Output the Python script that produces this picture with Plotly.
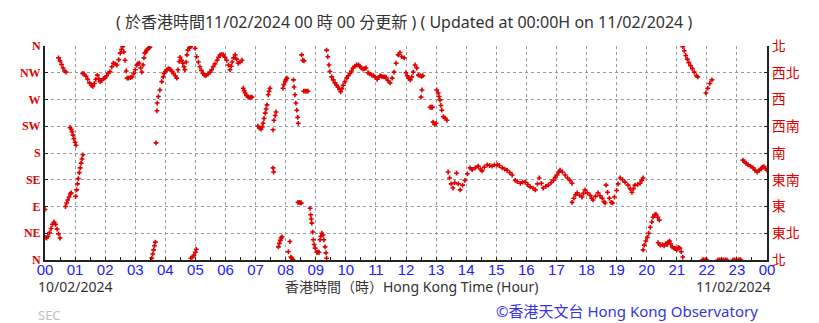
import plotly.graph_objects as go

# ---------------- data (hour of day, wind direction in degrees) ----------------
seg01_h = [0.0]
seg01_d = [85]
seg02_h = [0.0, 0.05, 0.1, 0.15, 0.2, 0.25, 0.3, 0.35, 0.4, 0.45, 0.5]
seg02_d = [38, 37, 40, 46, 53, 60, 64, 60, 52, 44, 37]
seg03_h = [0.45, 0.5, 0.55, 0.6, 0.65, 0.7]
seg03_d = [340, 335, 329, 323, 318, 316]
seg04_h = [0.68, 0.72, 0.76, 0.8, 0.84, 0.87]
seg04_d = [90, 96, 101, 106, 111, 113]
seg05_h = [0.83, 0.87, 0.9, 0.93, 0.96, 1.0, 1.03]
seg05_d = [223, 220, 216, 210, 204, 198, 193]
seg06_h = [1.02, 1.05, 1.08, 1.11, 1.14, 1.17, 1.2, 1.23, 1.26]
seg06_d = [107, 118, 128, 137, 147, 155, 163, 170, 177]
seg07_h = [1.25, 1.3, 1.36, 1.42, 1.48, 1.54, 1.59, 1.64, 1.69, 1.74, 1.79, 1.83, 1.88, 1.94,
           1.99, 2.05, 2.1, 2.16, 2.22, 2.27, 2.33, 2.39, 2.45, 2.5, 2.54, 2.58, 2.62, 2.66,
           2.7, 2.73, 2.78, 2.84, 2.89, 2.95, 3.0, 3.05, 3.09, 3.13, 3.18, 3.22, 3.26, 3.29,
           3.32, 3.35, 3.38, 3.42, 3.46, 3.49]
seg07_d = [314, 313, 309, 304, 298, 294, 292, 297, 304, 311, 305, 300, 302, 305,
           306, 310, 314, 317, 325, 331, 330, 328, 337, 348, 354, 359, 350, 336,
           318, 306, 306, 307, 308, 314, 320, 328, 330, 331, 323, 316, 328, 340,
           348, 350, 353, 355, 357, 358]
seg08_h = [3.55, 3.58, 3.61, 3.64, 3.67]
seg08_d = [3, 10, 17, 24, 30]
seg09_h = [3.69, 3.72]
seg09_d = [197, 251]
seg10_h = [3.73, 3.77, 3.82, 3.88, 3.93, 3.96, 4.0, 4.04, 4.1, 4.14, 4.18, 4.23, 4.27, 4.33,
           4.38, 4.42, 4.46, 4.49, 4.54, 4.58, 4.62, 4.65, 4.69, 4.72, 4.75, 4.8, 4.84]
seg10_d = [264, 275, 286, 300, 308, 314, 317, 320, 322, 321, 320, 317, 314, 310,
           306, 320, 334, 341, 336, 331, 325, 320, 333, 345, 353, 357, 359]
seg11_h = [4.85, 4.9, 4.95, 5.0, 5.03]
seg11_d = [3, 5, 8, 13, 18]
seg12_h = [4.99, 5.04, 5.1, 5.15, 5.2, 5.25, 5.3, 5.35, 5.42, 5.49, 5.54, 5.59, 5.65, 5.72,
           5.77, 5.82, 5.88, 5.93, 5.98, 6.04, 6.1, 6.15, 6.19, 6.22, 6.27, 6.32, 6.37,
           6.42, 6.48, 6.55]
seg12_d = [356, 342, 333, 325, 319, 314, 311, 310, 313, 316, 320, 325, 330, 336,
           341, 345, 346, 345, 341, 336, 328, 320, 326, 333, 340, 345, 338,
           331, 333, 336]
seg13_h = [6.59, 6.62, 6.65, 6.7, 6.75, 6.8, 6.84, 6.88]
seg13_d = [289, 285, 281, 277, 274, 273, 274, 274]
seg14_h = [7.08, 7.13, 7.18, 7.22, 7.25, 7.28, 7.32, 7.35, 7.38, 7.42, 7.45, 7.48]
seg14_d = [225, 222, 220, 224, 230, 238, 247, 254, 261, 278, 284, 289]
seg15_h = [7.58, 7.6]
seg15_d = [155, 148]
seg16_h = [7.58, 7.61, 7.65, 7.68]
seg16_d = [219, 235, 243, 249]
seg17_h = [7.76, 7.79, 7.82, 7.85, 7.88]
seg17_d = [22, 28, 33, 37, 39]
seg18_h = [7.91, 7.94, 7.98, 8.01, 8.04]
seg18_d = [289, 295, 300, 303, 306]
seg19_h = [8.09, 8.14, 8.17, 8.2, 8.24]
seg19_d = [14, 31, 5, 3, 1]
seg20_h = [8.26, 8.28, 8.31, 8.34, 8.37, 8.4, 8.42]
seg20_d = [303, 291, 278, 264, 252, 240, 230]
seg21_h = [8.41, 8.45, 8.49, 8.52]
seg21_d = [97, 97, 96, 96]
seg22_h = [8.53, 8.57, 8.61]
seg22_d = [345, 336, 335]
seg23_h = [8.6, 8.65, 8.7, 8.74]
seg23_d = [284, 284, 284, 284]
seg24_h = [8.81, 8.83, 8.85, 8.87, 8.9, 8.92, 8.95, 8.98, 9.03, 9.07, 9.11]
seg24_d = [87, 76, 69, 62, 47, 34, 26, 20, 13, 13, 13]
seg25_h = [9.14, 9.17, 9.2, 9.24, 9.27]
seg25_d = [34, 40, 45, 42, 34]
seg26_h = [9.31, 9.34, 9.36]
seg26_d = [22, 12, 3]
seg27_h = [9.36, 9.4, 9.44, 9.47, 9.53, 9.58, 9.64, 9.69, 9.74, 9.79, 9.83, 9.87, 9.91, 9.97,
           10.03, 10.08, 10.14, 10.19, 10.24, 10.3, 10.36, 10.42, 10.47, 10.52, 10.57,
           10.62, 10.67, 10.74, 10.8, 10.86, 10.92, 10.97, 11.04, 11.09, 11.14, 11.19,
           11.24, 11.29, 11.34, 11.4, 11.47, 11.54, 11.6, 11.67, 11.74, 11.8, 11.86, 11.94]
seg27_d = [353, 342, 328, 317, 308, 303, 298, 294, 291, 287, 283, 288, 294, 300,
           306, 310, 314, 318, 323, 326, 328, 328, 326, 323, 321,
           322, 323, 315, 313, 311, 310, 308, 304, 307, 310, 309,
           308, 308, 307, 302, 298, 306, 316, 331, 345, 349, 342, 340]
seg28_h = [12.0, 12.04, 12.08, 12.14, 12.19, 12.24, 12.3, 12.36, 12.41, 12.47, 12.52, 12.56]
seg28_d = [315, 310, 306, 303, 308, 316, 328, 323, 311, 310, 309, 310]
seg29_h = [12.5, 12.53]
seg29_d = [274, 286]
seg30_h = [12.8, 12.84, 12.88]
seg30_d = [257, 257, 257]
seg31_h = [12.9, 12.95, 13.0]
seg31_d = [232, 228, 230]
seg32_h = [13.02, 13.07, 13.1, 13.13, 13.16, 13.19, 13.24, 13.3, 13.36]
seg32_d = [286, 281, 275, 269, 260, 252, 241, 239, 235]
seg33_h = [13.4, 13.45, 13.5, 13.56, 13.62, 13.68, 13.74, 13.8, 13.88, 13.96, 14.04, 14.13,
           14.2, 14.3, 14.4, 14.47, 14.53, 14.6, 14.7, 14.78, 14.86, 14.94, 15.03, 15.1,
           15.2, 15.28, 15.36, 15.45, 15.53, 15.63, 15.7, 15.8, 15.88, 15.96, 16.05, 16.13,
           16.22, 16.3, 16.37, 16.43, 16.5, 16.56, 16.65, 16.73, 16.82, 16.9, 16.96, 17.02,
           17.08, 17.12, 17.2, 17.29, 17.37, 17.45, 17.52]
seg33_d = [148, 138, 128, 121, 130, 146, 128, 118, 126, 134, 145, 155,
           152, 155, 158, 153, 150, 156, 160, 159, 158, 160, 160, 159,
           155, 153, 151, 147, 143, 134, 132, 129, 131, 131, 127, 123,
           121, 118, 128, 138, 129, 121, 124, 126, 130, 134, 139, 143,
           148, 151, 148, 143, 138, 134, 129]
seg34_h = [17.52, 17.58, 17.64, 17.69, 17.77, 17.85, 17.9, 17.95, 18.03, 18.12, 18.17, 18.22,
           18.3, 18.38, 18.45, 18.52, 18.58, 18.62, 18.65, 18.7, 18.76, 18.82, 18.87, 18.93,
           19.0, 19.05, 19.12, 19.2, 19.28, 19.38, 19.45, 19.51, 19.56, 19.61, 19.7, 19.78,
           19.84, 19.88]
seg34_d = [97, 104, 110, 113, 109, 106, 112, 118, 113, 109, 104, 101,
           107, 113, 108, 104, 98, 96, 126, 114, 104, 97, 96, 106,
           117, 128, 138, 135, 131, 126, 120, 114, 120, 126, 127, 129,
           134, 138]
seg35_h = [19.88, 19.92, 19.97, 20.02, 20.07, 20.12, 20.17, 20.21, 20.26, 20.31, 20.37, 20.42]
seg35_d = [17, 25, 32, 38, 45, 55, 64, 72, 76, 77, 72, 67]
seg36_h = [20.38, 20.45, 20.52, 20.58, 20.63, 20.68, 20.72, 20.76, 20.8, 20.85, 20.9, 20.95,
           21.0, 21.05, 21.1, 21.15, 21.2]
seg36_d = [29, 25, 26, 24, 27, 26, 30, 32, 27, 22, 20, 19, 17, 21, 20, 14, 5]
seg37_h = [21.2, 21.25, 21.3, 21.35, 21.4, 21.46, 21.52, 21.58, 21.65, 21.7]
seg37_d = [359, 352, 344, 338, 332, 327, 322, 316, 310, 308]
seg38_h = [21.97, 22.03, 22.1, 22.17]
seg38_d = [281, 289, 297, 303]
seg39_h = [21.85, 21.9, 21.95, 22.0, 22.37, 22.43, 22.49, 22.55, 22.61, 22.67,
           22.87, 22.93, 22.99, 23.05, 23.1, 23.13]
seg39_d = [0, 0, 0, 0, 0, 0, 0, 0, 0, 0, 0, 0, 0, 0, 0, 0]
seg40_h = [23.2, 23.25, 23.3, 23.37, 23.45, 23.54, 23.6, 23.67, 23.74, 23.8, 23.84, 23.9,
           23.95, 24.0]
seg40_d = [168, 165, 163, 160, 158, 155, 151, 148, 151, 153, 156, 157, 154, 151]

segments = [
    (seg01_h, seg01_d), (seg02_h, seg02_d), (seg03_h, seg03_d), (seg04_h, seg04_d),
    (seg05_h, seg05_d), (seg06_h, seg06_d), (seg07_h, seg07_d), (seg08_h, seg08_d),
    (seg09_h, seg09_d), (seg10_h, seg10_d), (seg11_h, seg11_d), (seg12_h, seg12_d),
    (seg13_h, seg13_d), (seg14_h, seg14_d), (seg15_h, seg15_d), (seg16_h, seg16_d),
    (seg17_h, seg17_d), (seg18_h, seg18_d), (seg19_h, seg19_d), (seg20_h, seg20_d),
    (seg21_h, seg21_d), (seg22_h, seg22_d), (seg23_h, seg23_d), (seg24_h, seg24_d),
    (seg25_h, seg25_d), (seg26_h, seg26_d), (seg27_h, seg27_d), (seg28_h, seg28_d),
    (seg29_h, seg29_d), (seg30_h, seg30_d), (seg31_h, seg31_d), (seg32_h, seg32_d),
    (seg33_h, seg33_d), (seg34_h, seg34_d), (seg35_h, seg35_d), (seg36_h, seg36_d),
    (seg37_h, seg37_d), (seg38_h, seg38_d), (seg39_h, seg39_d), (seg40_h, seg40_d),
]

x_tick_vals = list(range(25))
x_tick_text = ["00", "01", "02", "03", "04", "05", "06", "07", "08", "09", "10", "11",
               "12", "13", "14", "15", "16", "17", "18", "19", "20", "21", "22", "23", "00"]
y_tick_vals = [0, 45, 90, 135, 180, 225, 270, 315, 360]
y_tick_left = ["N", "NE", "E", "SE", "S", "SW", "W", "NW", "N"]
y_tick_right = ["北", "東北", "東", "東南", "南", "西南", "西", "西北", "北"]

title_text = "( 於香港時間11/02/2024 00 時 00 分更新 ) ( Updated at 00:00H on 11/02/2024 )"
date_left = "10/02/2024"
date_right = "11/02/2024"
axis_title = "香港時間（時）Hong Kong Time (Hour)"
credit = "©香港天文台 Hong Kong Observatory"
code_text = "SEC"

# ---------------- figure ----------------
xs, ys = [], []
for h, d in segments:
    xs.extend(h)
    ys.extend(d)

RED = "#e00000"
SANS = "Noto Sans, Noto Sans CJK TC, DejaVu Sans, sans-serif"

fig = go.Figure()
fig.add_trace(go.Scatter(
    x=xs, y=ys, mode="markers",
    marker=dict(symbol="cross", size=4, color=RED, line=dict(width=0)),
    hoverinfo="skip", showlegend=False,
))
fig.add_trace(go.Scatter(
    x=[0, 24], y=[0, 360], yaxis="y2", mode="markers",
    marker=dict(opacity=0), hoverinfo="skip", showlegend=False,
))

grid = dict(showgrid=True, gridcolor="#9a9a9a", griddash="dot", gridwidth=1)

fig.update_layout(
    width=819, height=323,
    margin=dict(l=45, r=52, t=46, b=63, pad=0),
    paper_bgcolor="white", plot_bgcolor="white",
    xaxis=dict(
        range=[0, 24], tickvals=x_tick_vals, ticktext=x_tick_text,
        tickfont=dict(family="Liberation Sans, Arial", size=15, color="#2020ff"),
        ticklabelstandoff=-5,
        showline=True, linecolor="#222", linewidth=2,
        ticks="inside", ticklen=3, tickcolor="#222",
        minor=dict(ticks="inside", ticklen=3, dtick=0.5, tickcolor="#222", showgrid=False),
        zeroline=False, fixedrange=True, **grid,
    ),
    yaxis=dict(
        range=[0, 360], tickvals=y_tick_vals, ticktext=y_tick_left,
        tickfont=dict(family="Liberation Serif, serif", size=12, color=RED, weight="bold"),
        showline=True, linecolor="#222", linewidth=2,
        ticks="inside", ticklen=3, tickcolor="#222",
        zeroline=False, fixedrange=True, **grid,
    ),
    yaxis2=dict(
        range=[0, 360], tickvals=y_tick_vals, ticktext=y_tick_right,
        overlaying="y", side="right",
        tickfont=dict(family="Noto Sans CJK TC", size=14, color=RED),
        showline=True, linecolor="#222", linewidth=2,
        ticks="inside", ticklen=3, tickcolor="#222",
        showgrid=False, zeroline=False, fixedrange=True,
    ),
)

ann = [
    dict(text=title_text, x=0.497, y=1.112, xanchor="center", yanchor="middle",
         font=dict(family=SANS, size=16, color="#333")),
    dict(text=date_left, x=-0.0125, y=-0.126, xanchor="left", yanchor="middle",
         font=dict(family=SANS, size=14, color="#333")),
    dict(text=axis_title, x=0.507, y=-0.126, xanchor="center", yanchor="middle",
         font=dict(family=SANS, size=14, color="#333")),
    dict(text=date_right, x=1.007, y=-0.126, xanchor="right", yanchor="middle",
         font=dict(family=SANS, size=14, color="#333")),
    dict(text=credit, x=0.990, y=-0.238, xanchor="right", yanchor="middle",
         font=dict(family=SANS, size=15, color="#3535e0")),
    dict(text=code_text, x=-0.0125, y=-0.258, xanchor="left", yanchor="middle",
         font=dict(family=SANS, size=13, color="#c0c0c0")),
]
for a in ann:
    a.update(xref="paper", yref="paper", showarrow=False)
fig.update_layout(annotations=ann)

fig.write_html("out.html")
